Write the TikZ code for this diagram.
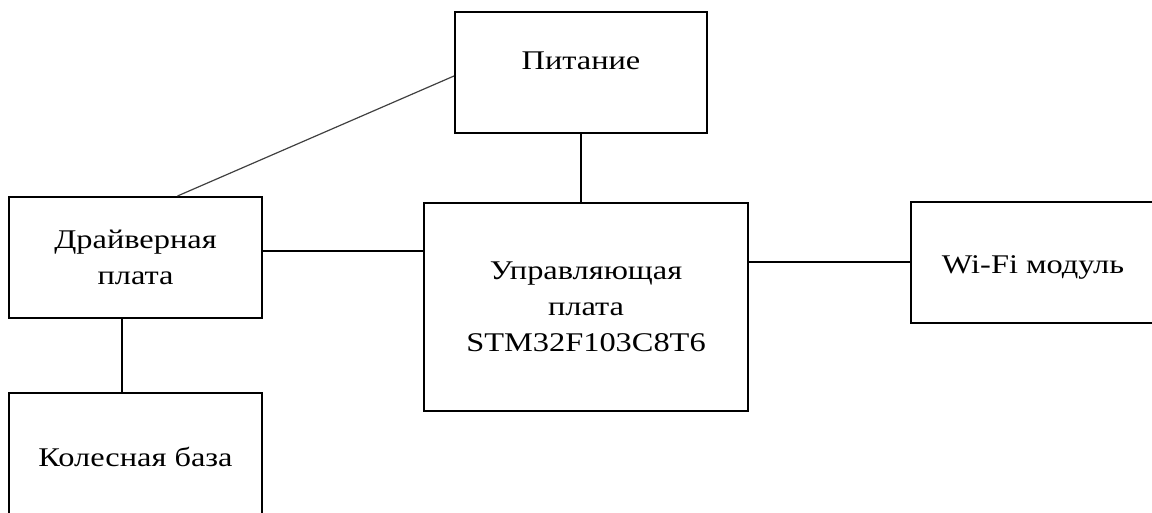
\documentclass[tikz,border=0pt]{standalone}
\usepackage{fontspec}
\setmainfont[FakeStretch=1.2]{Liberation Serif}

\begin{document}
\begin{tikzpicture}[x=0.5pt,y=-0.5pt,
  blok/.style={draw,line width=1pt,rectangle,align=center,inner sep=0pt,font=\fontsize{13.5}{18}\selectfont}]
\useasboundingbox (0,0) rectangle (1152,513);
\node[blok,minimum width=126pt,minimum height=60.5pt,text depth=12pt](pit) at (581,72.5) {Питание};
\node[blok,minimum width=126.5pt,minimum height=60.5pt](drv) at (135.5,257.5) {Драйверная\\плата};
\node[blok,minimum width=162pt,minimum height=104pt](upr) at (586,307) {Управляющая\\плата\\STM32F103C8T6};
\node[blok,minimum width=122pt,minimum height=60.5pt,text height=14pt](wifi) at (1033,262.5) {Wi-Fi модуль};
\node[blok,minimum width=126.5pt,minimum height=64pt](kol) at (135.5,457) {Колесная база};

\draw[line width=0.6pt,black!75] ([yshift=-1.75pt]pit.west) -- ([xshift=21pt]drv.north);
\draw[line width=1pt] (pit.south) -- (pit.south |- upr.north);
\draw[line width=1pt] ([yshift=3.25pt]drv.east) -- ([yshift=3.25pt]drv.east -| upr.west);
\draw[line width=1pt] (wifi.west) -- (wifi.west -| upr.east);
\draw[line width=1pt] ([xshift=-6.75pt]drv.south) -- ([xshift=-6.75pt]drv.south |- kol.north);
\end{tikzpicture}
\end{document}
